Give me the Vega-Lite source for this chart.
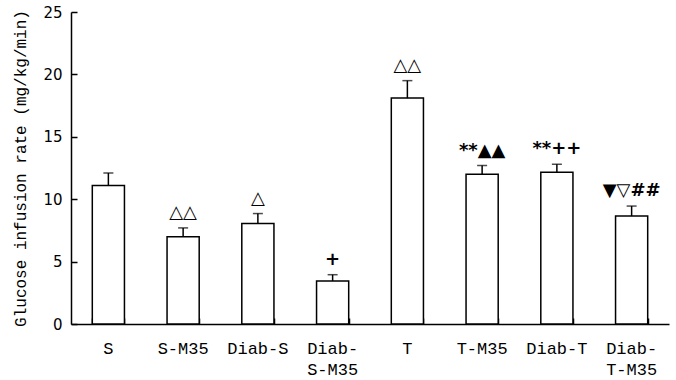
{
  "$schema": "https://vega.github.io/schema/vega-lite/v6.json",
  "width": 598,
  "height": 312,
  "autosize": {"type": "none"},
  "padding": {"left": 71, "top": 12, "right": 7, "bottom": 56},
  "background": "white",
  "config": {"view": {"stroke": null}},
  "data": {"values": [
    {"group": "S", "mean": 11.1, "upper": 12.1, "sig": ""},
    {"group": "S-M35", "mean": 7.0, "upper": 7.7, "sig": "△△"},
    {"group": "Diab-S", "mean": 8.05, "upper": 8.85, "sig": "△"},
    {"group": "Diab-S-M35", "mean": 3.45, "upper": 3.95, "sig": "+"},
    {"group": "T", "mean": 18.1, "upper": 19.5, "sig": "△△"},
    {"group": "T-M35", "mean": 12.0, "upper": 12.7, "sig": "**▲▲"},
    {"group": "Diab-T", "mean": 12.15, "upper": 12.8, "sig": "**++"},
    {"group": "Diab-T-M35", "mean": 8.65, "upper": 9.45, "sig": "▼▽##"}
  ]},
  "resolve": {"axis": {"x": "independent", "y": "independent"}},
  "layer": [
    {
      "mark": {"type": "bar", "fill": "white", "stroke": "black", "strokeWidth": 1.5},
      "encoding": {
        "x": {
          "field": "group", "type": "nominal", "sort": null,
          "scale": {"paddingInner": 0.57, "paddingOuter": 0.285},
          "axis": {
            "orient": "bottom",
            "title": null, "labelAngle": 0, "domainColor": "black", "domainWidth": 1.5,
            "ticks": false,
            "labelFont": "Liberation Mono", "labelFontSize": 17, "labelColor": "black",
            "labelPadding": 16, "labelLineHeight": 21,
            "labelExpr": "datum.label == 'Diab-S-M35' ? ['Diab-', 'S-M35'] : datum.label == 'Diab-T-M35' ? ['Diab-', 'T-M35'] : datum.label"
          }
        },
        "y": {
          "field": "mean", "type": "quantitative",
          "scale": {"domain": [0, 25], "nice": false},
          "axis": {
            "orient": "left",
            "values": [0, 5, 10, 15, 20, 25], "grid": false,
            "title": "Glucose infusion rate (mg/kg/min)",
            "titleFont": "Liberation Mono", "titleFontSize": 16, "titleFontWeight": "normal",
            "titleColor": "black", "titlePadding": 14,
            "domainColor": "black", "domainWidth": 1.5,
            "ticks": false,
            "labelFont": "DejaVu Sans", "labelFontSize": 15, "labelColor": "black",
            "labelPadding": 9
          }
        }
      }
    },
    {
      "mark": {"type": "rule", "stroke": "black", "strokeWidth": 1.5},
      "encoding": {
        "x": {
          "field": "group", "type": "nominal", "sort": null,
          "axis": {
            "orient": "top", "offset": -312, "title": null, "labels": false,
            "domain": false, "tickBand": "extent", "tickColor": "black",
            "tickWidth": 1.5, "tickSize": 6
          }
        },
        "y": {
          "field": "mean", "type": "quantitative",
          "scale": {"domain": [0, 25], "nice": false},
          "axis": {
            "orient": "right", "offset": -598, "title": null, "labels": false,
            "domain": false, "grid": false, "values": [0, 5, 10, 15, 20, 25],
            "tickColor": "black", "tickWidth": 1.5, "tickSize": 6
          }
        },
        "y2": {"field": "upper"}
      }
    },
    {
      "mark": {"type": "tick", "color": "black", "size": 10, "thickness": 1.5, "orient": "horizontal"},
      "encoding": {
        "x": {"field": "group", "type": "nominal", "sort": null, "axis": null},
        "y": {"field": "upper", "type": "quantitative", "axis": null, "scale": {"domain": [0, 25], "nice": false}}
      }
    },
    {
      "mark": {"type": "text", "font": "DejaVu Sans", "fontSize": 18, "fontWeight": "bold", "baseline": "bottom", "dy": -6, "color": "black", "letterSpacing": 1},
      "encoding": {
        "x": {"field": "group", "type": "nominal", "sort": null, "axis": null},
        "y": {"field": "upper", "type": "quantitative", "axis": null, "scale": {"domain": [0, 25], "nice": false}},
        "text": {"field": "sig"}
      }
    }
  ]
}
